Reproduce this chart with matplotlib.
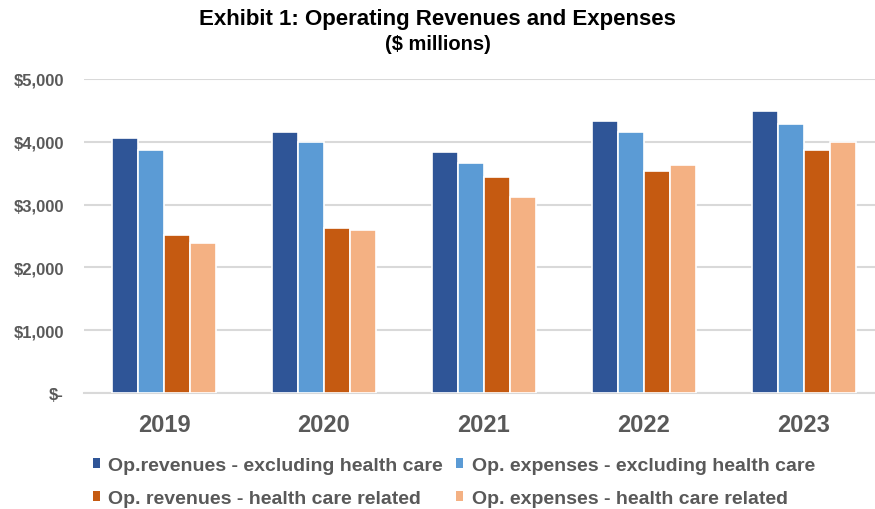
import matplotlib
matplotlib.use("Agg")
import matplotlib.pyplot as plt
from matplotlib.patches import Patch
import numpy as np

plt.rcParams['font.family'] = ['Liberation Sans', 'DejaVu Sans']

years = ["2019", "2020", "2021", "2022", "2023"]
series_names = [
    "Op.revenues - excluding health care",
    "Op. expenses - excluding health care",
    "Op. revenues - health care related",
    "Op. expenses - health care related",
]
rev_excl = [4055, 4150, 3840, 4330, 4490]
exp_excl = [3868, 3995, 3657, 4150, 4277]
rev_hc = [2512, 2633, 3439, 3534, 3868]
exp_hc = [2385, 2601, 3126, 3625, 3990]
colors = ["#2F5597", "#5B9BD5", "#C55A11", "#F4B183"]
yticks = [0, 1000, 2000, 3000, 4000, 5000]
ytick_labels = ["$-", "$1,000", "$2,000", "$3,000", "$4,000", "$5,000"]

W, H = 875, 510
fig = plt.figure(figsize=(W / 100, H / 100), dpi=100)
left_px, right_px = 84, 875
top_px, bottom_px = 79.7, 394.3
ax = fig.add_axes([left_px / W, (H - bottom_px) / H,
                   (right_px - left_px) / W, (bottom_px - top_px) / H])

x = np.arange(len(years))
bw = 0.164
all_series = [rev_excl, exp_excl, rev_hc, exp_hc]
for i, (vals, c) in enumerate(zip(all_series, colors)):
    ax.bar(x + (i - 1.5) * bw, vals, width=bw, color=c,
           edgecolor="white", linewidth=1.2, zorder=3)

spacing_px = 160
ax.set_xlim(-0.5, -0.5 + (right_px - left_px) / spacing_px)
ax.set_ylim(0, 5000)
ax.set_yticks(yticks)
ax.set_yticklabels(ytick_labels)
ax.set_xticks(x)
ax.set_xticklabels(years)
ax.yaxis.grid(True, color="#D9D9D9", linewidth=1.5, zorder=0)
ax.set_axisbelow(True)
for s in ["top", "right", "left"]:
    ax.spines[s].set_visible(False)
ax.spines["bottom"].set_color("#D9D9D9")
ax.spines["bottom"].set_linewidth(1.5)
ax.tick_params(axis="y", length=0, pad=14.5, labelsize=12, labelcolor="#595959")
ax.tick_params(axis="x", length=0, pad=14, labelsize=17, labelcolor="#595959")
for t in ax.get_yticklabels() + ax.get_xticklabels():
    t.set_fontweight("bold")

fig.text(0.5, 1 - 19 / H, "Exhibit 1: Operating Revenues and Expenses",
         ha="center", va="center", fontsize=16, fontweight="bold", color="black")
fig.text(0.5, 1 - 44 / H, "($ millions)",
         ha="center", va="center", fontsize=14.5, fontweight="bold", color="black")

handles = [Patch(facecolor=c, edgecolor="none") for c in colors]
leg = fig.legend([handles[i] for i in [0, 2, 1, 3]],
                 [series_names[i] for i in [0, 2, 1, 3]],
                 ncol=2, loc="upper left",
                 bbox_to_anchor=(92.5 / W, 1 - 458 / H),
                 frameon=False, handlelength=0.36, handleheight=0.42,
                 handletextpad=0.42, columnspacing=0.72, labelspacing=0.8,
                 prop={"size": 14, "weight": "bold"},
                 borderaxespad=0, borderpad=0)
for t in leg.get_texts():
    t.set_color("#595959")

fig.savefig("out.png", dpi=100)
